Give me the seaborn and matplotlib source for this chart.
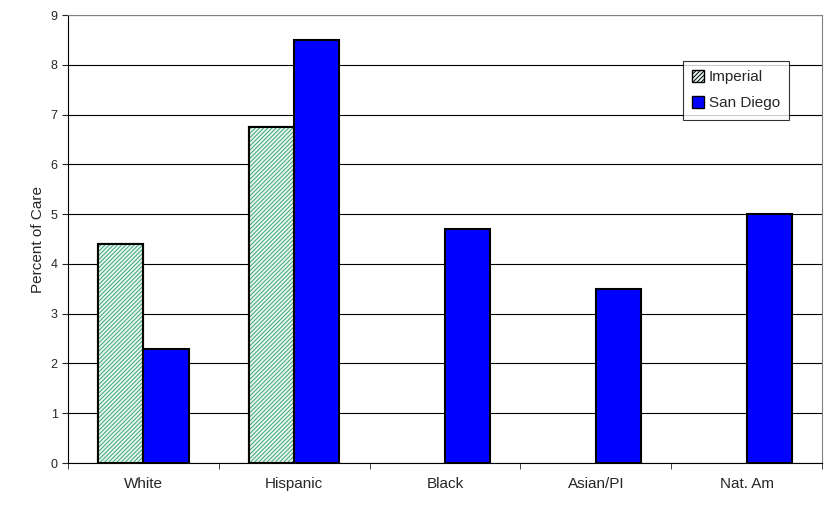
import matplotlib
matplotlib.use("Agg")
import matplotlib.pyplot as plt
import seaborn as sns
import pandas as pd
import numpy as np
from matplotlib.patches import Patch

categories = ["White", "Hispanic", "Black", "Asian/PI", "Nat. Am"]
imperial = [4.4, 6.75, np.nan, np.nan, np.nan]
san_diego = [2.3, 8.5, 4.7, 3.5, 5.0]

df = pd.DataFrame({
    "cat": categories * 2,
    "val": imperial + san_diego,
    "region": ["Imperial"] * 5 + ["San Diego"] * 5,
})

sns.set_style("white")
plt.rcParams['font.family'] = ['Liberation Sans', 'DejaVu Sans']
plt.rcParams['hatch.linewidth'] = 0.7
plt.rcParams['hatch.color'] = '#3aa57a'

fig = plt.figure(figsize=(8.31, 5.08), dpi=100)
ax = fig.add_axes([68/831, 1-463/508, (822-68)/831, (463-15)/508])
sns.barplot(data=df, x="cat", y="val", hue="region", order=categories,
            palette={"Imperial": "white", "San Diego": "#0000ff"}, saturation=1,
            width=0.6, gap=0, edgecolor="black", linewidth=1.5, ax=ax, legend=False)

for p in list(ax.patches):
    fc = p.get_facecolor()
    if fc[0] > 0.9 and not np.isnan(p.get_height()) and p.get_height() > 0:
        h = plt.Rectangle((p.get_x(), p.get_y()), p.get_width(), p.get_height(),
                          facecolor="#e8f5ee", edgecolor="#3aa57a", hatch="////////",
                          linewidth=0, zorder=p.get_zorder() + 0.1)
        ax.add_patch(h)
        o = plt.Rectangle((p.get_x(), p.get_y()), p.get_width(), p.get_height(),
                          facecolor="none", edgecolor="black", linewidth=1.5,
                          zorder=p.get_zorder() + 0.2)
        ax.add_patch(o)

ax.set_ylim(0, 9)
ax.set_xlim(-0.5, 4.5)
ax.set_yticks(range(10))
ax.yaxis.grid(True, color="black", linewidth=0.8)
ax.set_axisbelow(True)
ax.set_xlabel("")
ax.set_ylabel("Percent of Care", fontsize=11)
ax.tick_params(axis="y", labelsize=9, length=4, direction="out", left=True, width=0.8)
ax.tick_params(axis="x", labelsize=11, length=0, pad=10)
ax.set_xticks(np.arange(-0.5, 4.6, 1), minor=True)
ax.tick_params(axis="x", which="minor", length=4, bottom=True, direction="out")
for s in ["top", "right"]:
    ax.spines[s].set_color("#808080")
for s in ["left", "bottom"]:
    ax.spines[s].set_color("black")
for s in ax.spines.values():
    s.set_linewidth(0.8)

handles = [Patch(facecolor="#e8f5ee", edgecolor="black", hatch="////////", label="Imperial"),
           Patch(facecolor="#0000ff", edgecolor="black", label="San Diego")]
leg = ax.legend(handles=handles, loc="upper left", bbox_to_anchor=(0.805, 0.915),
                fontsize=11, frameon=True, fancybox=False, edgecolor="black",
                handlelength=0.8, handleheight=0.8, handletextpad=0.3,
                borderpad=0.6, labelspacing=0.8)
leg.get_frame().set_linewidth(0.8)

fig.savefig("out.png", dpi=100)
